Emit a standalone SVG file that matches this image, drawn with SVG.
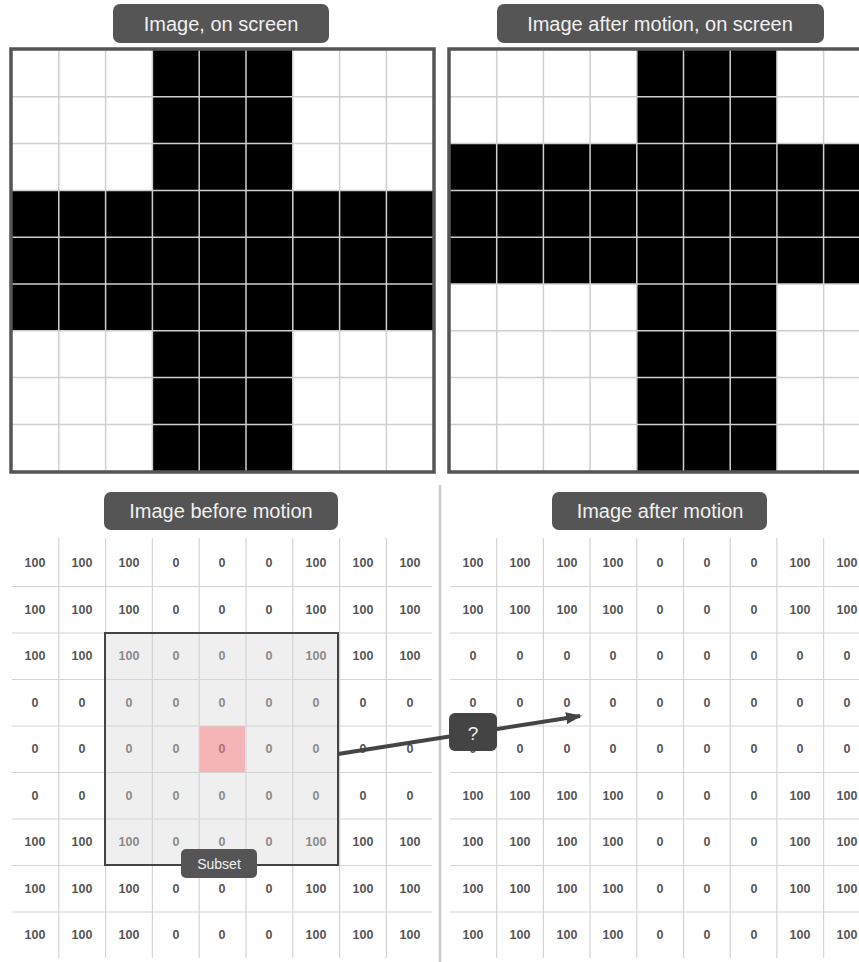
<svg xmlns="http://www.w3.org/2000/svg" width="859" height="962" viewBox="0 0 859 962">
<style>
.pill{fill:#555555}
.ptxt{fill:#f0f0f0;font-family:"Liberation Sans",Arial,sans-serif;font-size:20px;text-anchor:middle}
.gl{stroke:#cfcfcf;stroke-width:1.5;fill:none}
.bd{stroke:#555555;stroke-width:3.5;fill:none}
.tl{stroke:#d4d4d4;stroke-width:1.2;fill:none}
.n{fill:#555555;font-family:"Liberation Sans",Arial,sans-serif;font-size:12.5px;font-weight:bold;text-anchor:middle}
.ns{fill:#8a8a8a}
.np{fill:#b46f6f}
</style>
<defs>
<marker id="ah" markerWidth="16" markerHeight="12" refX="14" refY="6" orient="auto" markerUnits="userSpaceOnUse"><path d="M0,0 L16,6 L0,12 Z" fill="#444444"/></marker>
</defs>
<rect width="859" height="962" fill="#ffffff"/>

<g id="title-screen"><rect class="pill" x="113" y="4" width="216" height="39" rx="7"/><text class="ptxt" x="221" y="31">Image, on screen</text></g>
<g id="title-after-screen"><rect class="pill" x="497" y="4" width="327" height="39" rx="7"/><text class="ptxt" x="660" y="31">Image after motion, on screen</text></g>
<g id="title-before"><rect class="pill" x="104" y="492" width="234" height="38" rx="7"/><text class="ptxt" x="221" y="518">Image before motion</text></g>
<g id="title-after"><rect class="pill" x="552" y="492" width="215" height="38" rx="7"/><text class="ptxt" x="660" y="518">Image after motion</text></g>

<g id="grid-screen">
<rect x="12" y="50" width="421" height="421" fill="#ffffff"/>
<rect x="152" y="50" width="140" height="421" fill="#000000"/>
<rect x="12" y="190" width="421" height="141" fill="#000000"/>
<path class="gl" d="M58.8,50V471M105.6,50V471M152.4,50V471M199.2,50V471M246,50V471M292.8,50V471M339.6,50V471M386.4,50V471M12,96.8H433M12,143.6H433M12,190.4H433M12,237.2H433M12,284H433M12,330.8H433M12,377.6H433M12,424.4H433"/>
<rect class="bd" x="11" y="49" width="423" height="423"/>
</g>

<g id="grid-after-screen">
<rect x="450" y="50" width="409" height="421" fill="#ffffff"/>
<rect x="637" y="50" width="140" height="421" fill="#000000"/>
<rect x="450" y="143.6" width="409" height="140.4" fill="#000000"/>
<path class="gl" d="M496.7,50V471M543.4,50V471M590.1,50V471M636.8,50V471M683.5,50V471M730.2,50V471M776.9,50V471M823.6,50V471M450,96.8H859M450,143.6H859M450,190.4H859M450,237.2H859M450,284H859M450,330.8H859M450,377.6H859M450,424.4H859"/>
<path class="bd" d="M862,49H449V472H862"/>
</g>

<line id="separator" x1="440" y1="485" x2="440" y2="962" stroke="#cccccc" stroke-width="2.5"/>

<g id="subset">
<rect x="105" y="633" width="233" height="232" fill="#efefef"/>
<rect x="199" y="726" width="46" height="46" fill="#f4b4b6"/>
</g>

<g id="table-before">
<path class="tl" d="M58.8,538V958M105.6,538V958M152.4,538V958M199.2,538V958M246,538V958M292.8,538V958M339.6,538V958M386.4,538V958M12,586.5H432M12,633H432M12,679.5H432M12,726H432M12,772.5H432M12,819H432M12,865.5H432M12,912H432"/>
<g class="n">
<text x="35" y="567">100</text><text x="82" y="567">100</text><text x="129" y="567">100</text><text x="176" y="567">0</text><text x="222" y="567">0</text><text x="269" y="567">0</text><text x="316" y="567">100</text><text x="363" y="567">100</text><text x="410" y="567">100</text>
<text x="35" y="614">100</text><text x="82" y="614">100</text><text x="129" y="614">100</text><text x="176" y="614">0</text><text x="222" y="614">0</text><text x="269" y="614">0</text><text x="316" y="614">100</text><text x="363" y="614">100</text><text x="410" y="614">100</text>
<text x="35" y="660">100</text><text x="82" y="660">100</text><text class="ns" x="129" y="660">100</text><text class="ns" x="176" y="660">0</text><text class="ns" x="222" y="660">0</text><text class="ns" x="269" y="660">0</text><text class="ns" x="316" y="660">100</text><text x="363" y="660">100</text><text x="410" y="660">100</text>
<text x="35" y="707">0</text><text x="82" y="707">0</text><text class="ns" x="129" y="707">0</text><text class="ns" x="176" y="707">0</text><text class="ns" x="222" y="707">0</text><text class="ns" x="269" y="707">0</text><text class="ns" x="316" y="707">0</text><text x="363" y="707">0</text><text x="410" y="707">0</text>
<text x="35" y="753">0</text><text x="82" y="753">0</text><text class="ns" x="129" y="753">0</text><text class="ns" x="176" y="753">0</text><text class="np" x="222" y="753">0</text><text class="ns" x="269" y="753">0</text><text class="ns" x="316" y="753">0</text><text x="363" y="753">0</text><text x="410" y="753">0</text>
<text x="35" y="800">0</text><text x="82" y="800">0</text><text class="ns" x="129" y="800">0</text><text class="ns" x="176" y="800">0</text><text class="ns" x="222" y="800">0</text><text class="ns" x="269" y="800">0</text><text class="ns" x="316" y="800">0</text><text x="363" y="800">0</text><text x="410" y="800">0</text>
<text x="35" y="846">100</text><text x="82" y="846">100</text><text class="ns" x="129" y="846">100</text><text class="ns" x="176" y="846">0</text><text class="ns" x="222" y="846">0</text><text class="ns" x="269" y="846">0</text><text class="ns" x="316" y="846">100</text><text x="363" y="846">100</text><text x="410" y="846">100</text>
<text x="35" y="893">100</text><text x="82" y="893">100</text><text x="129" y="893">100</text><text x="176" y="893">0</text><text x="222" y="893">0</text><text x="269" y="893">0</text><text x="316" y="893">100</text><text x="363" y="893">100</text><text x="410" y="893">100</text>
<text x="35" y="939">100</text><text x="82" y="939">100</text><text x="129" y="939">100</text><text x="176" y="939">0</text><text x="222" y="939">0</text><text x="269" y="939">0</text><text x="316" y="939">100</text><text x="363" y="939">100</text><text x="410" y="939">100</text>
</g>
</g>

<g id="subset-border">
<rect x="105" y="633" width="233" height="232" fill="none" stroke="#444444" stroke-width="2"/>
</g>
<g id="subset-label"><rect class="pill" x="181" y="849" width="76" height="29" rx="5"/><text x="219" y="869" fill="#f0f0f0" font-family="'Liberation Sans',Arial,sans-serif" font-size="14" text-anchor="middle">Subset</text></g>

<g id="table-after">
<path class="tl" d="M496.7,538V958M543.4,538V958M590.1,538V958M636.8,538V958M683.5,538V958M730.2,538V958M776.9,538V958M823.6,538V958M450,586.5H859M450,633H859M450,679.5H859M450,726H859M450,772.5H859M450,819H859M450,865.5H859M450,912H859"/>
<g class="n">
<text x="473" y="567">100</text><text x="520" y="567">100</text><text x="567" y="567">100</text><text x="613" y="567">100</text><text x="660" y="567">0</text><text x="707" y="567">0</text><text x="754" y="567">0</text><text x="800" y="567">100</text><text x="847" y="567">100</text>
<text x="473" y="614">100</text><text x="520" y="614">100</text><text x="567" y="614">100</text><text x="613" y="614">100</text><text x="660" y="614">0</text><text x="707" y="614">0</text><text x="754" y="614">0</text><text x="800" y="614">100</text><text x="847" y="614">100</text>
<text x="473" y="660">0</text><text x="520" y="660">0</text><text x="567" y="660">0</text><text x="613" y="660">0</text><text x="660" y="660">0</text><text x="707" y="660">0</text><text x="754" y="660">0</text><text x="800" y="660">0</text><text x="847" y="660">0</text>
<text x="473" y="707">0</text><text x="520" y="707">0</text><text x="567" y="707">0</text><text x="613" y="707">0</text><text x="660" y="707">0</text><text x="707" y="707">0</text><text x="754" y="707">0</text><text x="800" y="707">0</text><text x="847" y="707">0</text>
<text x="473" y="753">0</text><text x="520" y="753">0</text><text x="567" y="753">0</text><text x="613" y="753">0</text><text x="660" y="753">0</text><text x="707" y="753">0</text><text x="754" y="753">0</text><text x="800" y="753">0</text><text x="847" y="753">0</text>
<text x="473" y="800">100</text><text x="520" y="800">100</text><text x="567" y="800">100</text><text x="613" y="800">100</text><text x="660" y="800">0</text><text x="707" y="800">0</text><text x="754" y="800">0</text><text x="800" y="800">100</text><text x="847" y="800">100</text>
<text x="473" y="846">100</text><text x="520" y="846">100</text><text x="567" y="846">100</text><text x="613" y="846">100</text><text x="660" y="846">0</text><text x="707" y="846">0</text><text x="754" y="846">0</text><text x="800" y="846">100</text><text x="847" y="846">100</text>
<text x="473" y="893">100</text><text x="520" y="893">100</text><text x="567" y="893">100</text><text x="613" y="893">100</text><text x="660" y="893">0</text><text x="707" y="893">0</text><text x="754" y="893">0</text><text x="800" y="893">100</text><text x="847" y="893">100</text>
<text x="473" y="939">100</text><text x="520" y="939">100</text><text x="567" y="939">100</text><text x="613" y="939">100</text><text x="660" y="939">0</text><text x="707" y="939">0</text><text x="754" y="939">0</text><text x="800" y="939">100</text><text x="847" y="939">100</text>
</g>
</g>

<g id="connectors">
<line x1="338" y1="754" x2="580" y2="716" stroke="#444444" stroke-width="4" marker-end="url(#ah)"/>
</g>

<g id="question"><rect x="449" y="713" width="48" height="38" rx="6" fill="#444444"/><text x="473" y="740" fill="#f0f0f0" font-family="'Liberation Sans',Arial,sans-serif" font-size="19" text-anchor="middle">?</text></g>
</svg>
